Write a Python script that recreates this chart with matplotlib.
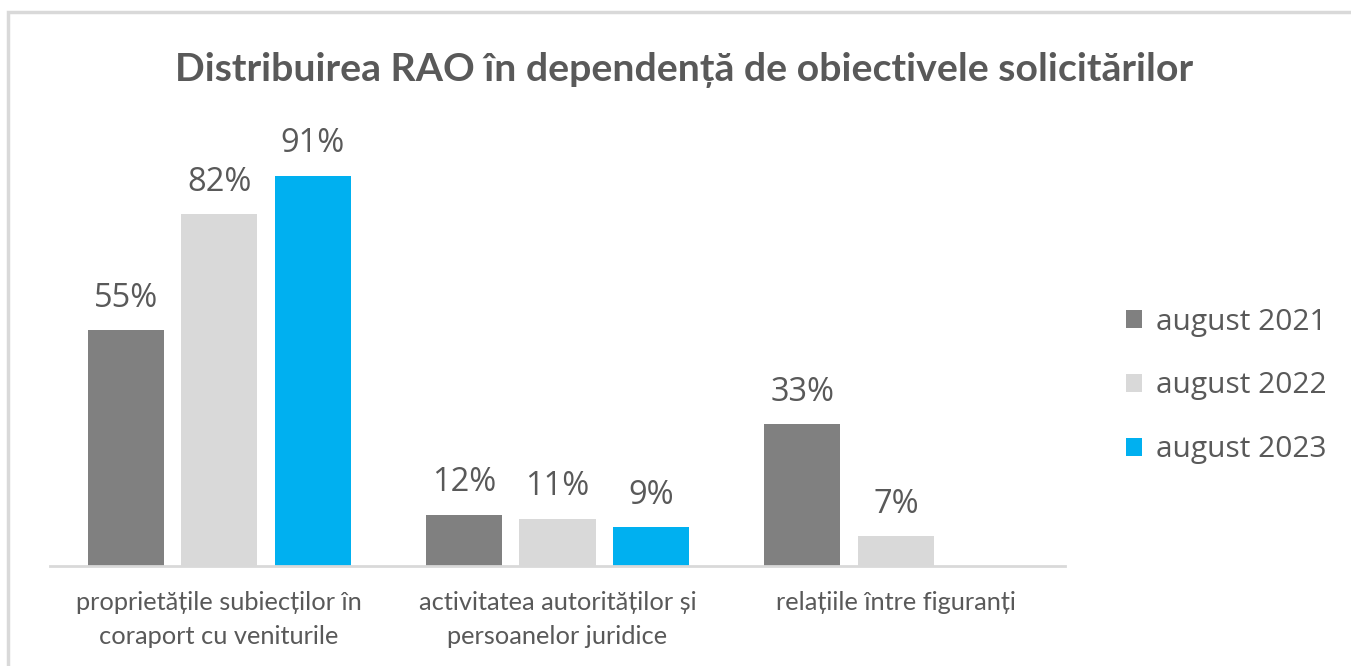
import numpy as np
import matplotlib.pyplot as plt
from matplotlib.patches import Rectangle

# data
categories = ["proprietățile subiecților în\ncoraport cu veniturile",
              "activitatea autorităților și\npersoanelor juridice",
              "relațiile între figuranți"]
series = ["august 2021", "august 2022", "august 2023"]
v2021 = [55, 12, 33]
v2022 = [82, 11, 7]
v2023 = [91, 9, np.nan]
colors = ["#808080", "#d9d9d9", "#00b0f0"]

title = "Distribuirea RAO în dependență de obiectivele solicitărilor"
text_col = "#595959"
narrow = ["Lato", "DejaVu Sans"]
body = ["Open Sans", "DejaVu Sans"]

fig = plt.figure(figsize=(13.51, 6.66), dpi=100)
fig.patches.append(Rectangle((8 / 1351, -0.1), 1.1, 1.1 - 12 / 666,
                             transform=fig.transFigure, fill=False,
                             edgecolor="#d9d9d9", lw=2.5, zorder=0))

ax = fig.add_axes([50 / 1351, 1 - 566 / 666, 1015 / 1351, (566 - 137) / 666])

x = np.arange(len(categories))
w = 0.225
step = 0.2766
for i, (vals, name, c) in enumerate(zip([v2021, v2022, v2023], series, colors)):
    pos = x + (i - 1) * step
    ax.bar(pos, vals, width=w, color=c, label=name)
    for xp, v in zip(pos, vals):
        if np.isnan(v):
            continue
        ax.text(xp, v + 3.6, f"{v:.0f}%", ha="center", va="bottom",
                fontsize=23.5, color=text_col, family=body)

ax.set_xlim(-0.5, 2.5)
ax.set_ylim(0, 100)
ax.set_yticks([])
ax.set_xticks(x)
ax.set_xticklabels(categories, fontsize=18.3, color=text_col, family=narrow,
                   linespacing=1.6)
ax.tick_params(axis="x", length=0, pad=18)
for s in ["left", "right", "top"]:
    ax.spines[s].set_visible(False)
ax.spines["bottom"].set_color("#d9d9d9")
ax.spines["bottom"].set_linewidth(2)

leg = fig.legend(loc="center left", bbox_to_anchor=(1099 / 1351, 1 - 386 / 666),
                 frameon=False, handlelength=0.55, handleheight=0.55,
                 handletextpad=0.45, labelspacing=1.17,
                 prop={"family": body, "size": 21.5})
for t in leg.get_texts():
    t.set_color(text_col)

fig.text(684.5 / 1351, 1 - 70 / 666, title, ha="center", va="center",
         fontsize=28.3, fontweight="bold", color=text_col, family=narrow)

fig.savefig("out.png", dpi=100)
